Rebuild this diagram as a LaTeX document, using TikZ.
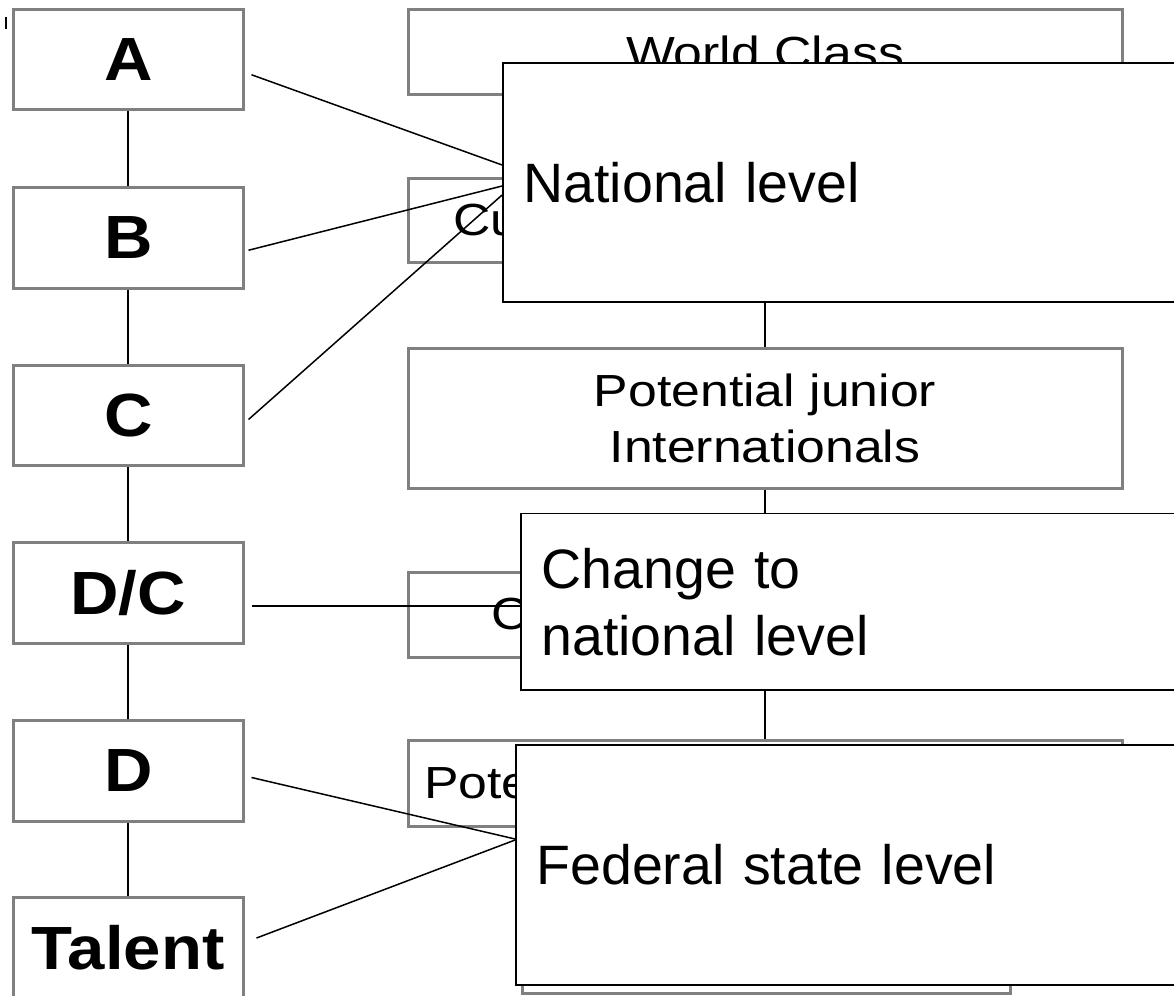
\documentclass[tikz,border=0pt]{standalone}
\usepackage{fontspec}
\setmainfont{Liberation Sans}
\newfontfamily\grayfont[FakeStretch=1.15]{Liberation Sans}
\newfontfamily\lblfont[FakeStretch=1.1]{Liberation Sans}
\definecolor{boxgray}{RGB}{128,128,128}
\begin{document}
\begin{tikzpicture}[x=1pt,y=-1pt,
  graybox/.style={draw=boxgray, line width=3pt, fill=white, inner sep=0pt, align=center},
  levelbox/.style={draw=black, line width=1.8pt, fill=white, inner xsep=20.5pt, inner ysep=0pt, align=left},
  link/.style={draw=black, line width=1.8pt},
  lbl/.style={font=\lblfont\bfseries\fontsize{61}{66}\selectfont},
  gtxt/.style={font=\grayfont\fontsize{45}{56}\selectfont},
  btxt/.style={font=\fontsize{55.5}{67}\selectfont}]
\useasboundingbox (0,0) rectangle (1174,995);
\fill[white] (0,0) rectangle (1174,995);
\clip (0,0) rectangle (1174,995);
% tiny mark
\draw[line width=2pt] (6,17) -- (6,29);
% left column
\node[graybox, lbl, minimum width=229.5, minimum height=100.5] (A) at (128.25,59.75) {A};
\node[graybox, lbl, minimum width=229.5, minimum height=100.5] (B) at (128.25,237.75) {B};
\node[graybox, lbl, minimum width=229.5, minimum height=100.5] (C) at (128.25,415.5) {C};
\node[graybox, lbl, minimum width=229.5, minimum height=100.5] (DC) at (128.25,593) {D/C};
\node[graybox, lbl, minimum width=229.5, minimum height=100.5] (D) at (128.25,771) {D};
\node[graybox, lbl, minimum width=229.5, minimum height=100.5] (T) at (128.25,948) {Talent};
\draw[link] (A) -- (B);
\draw[link] (B) -- (C);
\draw[link] (C) -- (DC);
\draw[link] (DC) -- (D);
\draw[link] (D) -- (T);
% right column (gray)
\node[graybox, gtxt, minimum width=714, minimum height=85.5] (wc) at (765,52.25) {World Class};
\node[graybox, gtxt, minimum width=714, minimum height=83, text width=624, inner xsep=45pt, align=left] (cu) at (765,220.5) {Cu};
\node[graybox, gtxt, minimum width=714, minimum height=140] (pot) at (765,418) {Potential junior\\Internationals};
\node[graybox, gtxt, minimum width=714, minimum height=85, text width=548, inner xsep=83pt, align=left] (cb) at (765,614.5) {C};
\node[graybox, gtxt, minimum width=714, minimum height=86, text width=682, inner xsep=16pt, align=left] (pote) at (765,783) {Pote};
\node[graybox, gtxt, minimum width=488, minimum height=88] (six) at (766,949) {};
\draw[link] (wc) -- (cu);
\draw[link] (cu) -- (pot);
\draw[link] (pot) -- (cb);
\draw[link] (cb) -- (pote);
\draw[link] (pote.south) -- (pote.south |- six.north);
% level boxes (black)
\node[levelbox, btxt, minimum width=697, minimum height=239, text width=656] (nat) at (851.5,182.5) {National level};
\node[levelbox, btxt, minimum width=679, minimum height=176.5, text width=638] (chg) at (860.5,601.75) {Change to\\national level};
\node[levelbox, btxt, minimum width=684, minimum height=240, text width=643] (fed) at (858,865) {Federal state level};
% connectors from left column to levels
\draw[link, line width=1.5pt] ([xshift=7pt,yshift=-15pt]A.east) -- ([yshift=17.5pt]nat.west);
\draw[link, line width=1.5pt] ([xshift=4pt,yshift=-12.5pt]B.east) -- ([yshift=-3.5pt]nat.west);
\draw[link, line width=1.5pt] ([xshift=4pt,yshift=-4pt]C.east) -- ([yshift=-12.5pt]nat.west);
\draw[link, line width=1.5pt] ([xshift=7pt,yshift=-13pt]DC.east) -- ([yshift=-4.25pt]chg.west);
\draw[link, line width=1.5pt] ([xshift=7pt,yshift=-6.5pt]D.east) -- ([yshift=26pt]fed.west);
\draw[link, line width=1.5pt] ([xshift=12pt,yshift=10pt]T.east) -- ([yshift=25pt]fed.west);
\end{tikzpicture}
\end{document}
